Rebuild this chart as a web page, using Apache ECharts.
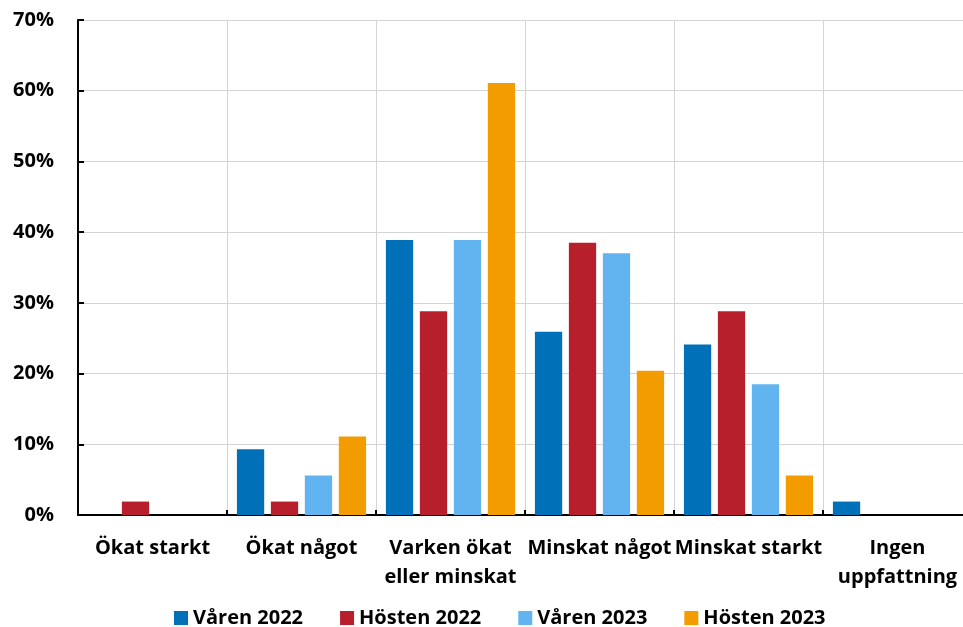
<!DOCTYPE html>
<html>
<head>
<meta charset="utf-8">
<script src="https://cdn.jsdelivr.net/npm/echarts@6/dist/echarts.min.js"></script>
<style>
html,body{margin:0;padding:0;background:#fff;overflow:hidden;}
#chart{width:972px;height:627px;}
</style>
</head>
<body>
<div id="chart"></div>
<script>
const categories = ["Ökat starkt", "Ökat något", "Varken ökat\neller minskat", "Minskat något", "Minskat starkt", "Ingen\nuppfattning"];
const seriesNames = ["Våren 2022", "Hösten 2022", "Våren 2023", "Hösten 2023"];
const varen2022 = [0, 9.3, 38.9, 25.9, 24.1, 1.9];
const hosten2022 = [1.9, 1.9, 28.8, 38.5, 28.8, 0];
const varen2023 = [0, 5.6, 38.9, 37.0, 18.5, 0];
const hosten2023 = [0, 11.1, 61.1, 20.4, 5.6, 0];
const yTicks = [0, 10, 20, 30, 40, 50, 60, 70];
const colors = ["#0070b8", "#b81f2d", "#62b4f1", "#f39c00"];

const FONT = "Open Sans";
const FS = 20;
const chart = echarts.init(document.getElementById('chart'), null, {renderer: 'canvas'});
const allData = [varen2022, hosten2022, varen2023, hosten2023];
chart.setOption({
  animation: false,
  backgroundColor: '#fff',
  textStyle: {fontFamily: FONT, fontWeight: 'bold', color: '#000'},
  grid: {left: 78, right: 0, top: 20, bottom: 112, containLabel: false},
  legend: {
    data: seriesNames,
    left: 174, top: 608, padding: 0,
    itemWidth: 14, itemHeight: 14, itemGap: 37,
    icon: 'rect',
    textStyle: {fontFamily: FONT, fontWeight: 'bold', fontSize: FS, color: '#000'}
  },
  xAxis: {
    type: 'category',
    data: categories,
    boundaryGap: true,
    axisLine: {lineStyle: {color: '#000', width: 2}},
    axisTick: {show: true, inside: true, length: 5, lineStyle: {color: '#000', width: 2}},
    splitLine: {show: true, lineStyle: {color: '#d4d4d4', width: 1}},
    axisLabel: {interval: 0, margin: 19, fontFamily: FONT, fontWeight: 'bold', fontSize: FS, color: '#000', lineHeight: 29}
  },
  yAxis: {
    type: 'value',
    min: yTicks[0], max: yTicks[yTicks.length-1], interval: 10,
    axisLine: {show: true, lineStyle: {color: '#000', width: 2}},
    axisTick: {show: true, inside: true, length: 6, lineStyle: {color: '#000', width: 2}},
    splitLine: {show: true, lineStyle: {color: '#d4d4d4', width: 1}},
    axisLabel: {formatter: '{value}%', margin: 24, fontFamily: FONT, fontWeight: 'bold', fontSize: FS, color: '#000'}
  },
  series: seriesNames.map((n, i) => ({
    name: n,
    type: 'bar',
    data: allData[i],
    itemStyle: {color: colors[i]},
    barGap: '24.5%',
    barCategoryGap: '13.3%'
  }))
});
</script>
</body>
</html>
